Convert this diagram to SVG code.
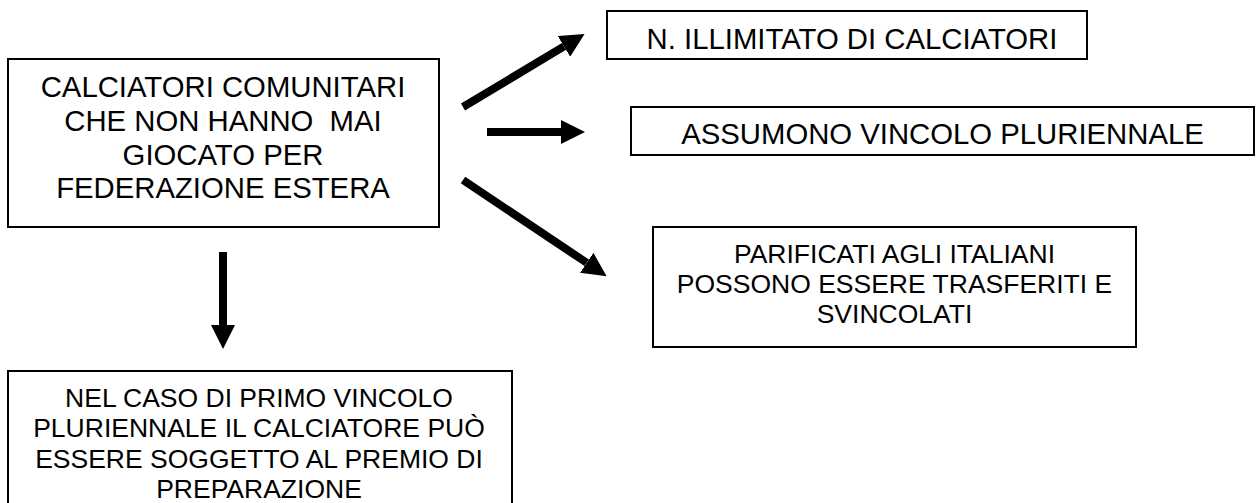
<svg xmlns="http://www.w3.org/2000/svg" width="1256" height="503" viewBox="0 0 1256 503">
  <style>
    .box { fill: #ffffff; stroke: #000000; stroke-width: 2; }
    .t { font-family: "Liberation Sans", Arial, sans-serif; fill: #000000; text-anchor: middle; }
    .big { font-size: 29.3px; }
    .small { font-size: 26.5px; }
    .arr { stroke: #000000; stroke-width: 8; fill: none; marker-end: url(#head); }
  </style>
  <defs>
    <marker id="head" markerUnits="userSpaceOnUse" markerWidth="24" markerHeight="24" refX="0" refY="11" orient="auto" viewBox="0 0 22 22">
      <path d="M0,0 L22,11 L0,22 z" fill="#000000"/>
    </marker>
  </defs>
  <rect width="1256" height="503" fill="#ffffff"/>

  <g id="node-main">
    <rect class="box" x="8" y="59" width="431" height="168"/>
    <text class="t big" x="223" y="97">CALCIATORI COMUNITARI</text>
    <text class="t big" x="223" y="131" xml:space="preserve">CHE NON HANNO  MAI</text>
    <text class="t big" x="223" y="164.5">GIOCATO PER</text>
    <text class="t big" x="223" y="198">FEDERAZIONE ESTERA</text>
  </g>

  <g id="node-illimitato">
    <rect class="box" x="607" y="11" width="480" height="48"/>
    <text class="t big" x="852" y="49">N. ILLIMITATO DI CALCIATORI</text>
  </g>

  <g id="node-vincolo">
    <rect class="box" x="631" y="107" width="623" height="48"/>
    <text class="t big" x="942.5" y="144">ASSUMONO VINCOLO PLURIENNALE</text>
  </g>

  <g id="node-parificati">
    <rect class="box" x="653" y="227" width="483" height="120"/>
    <text class="t small" x="894.5" y="263">PARIFICATI AGLI ITALIANI</text>
    <text class="t small" x="894.5" y="293">POSSONO ESSERE TRASFERITI E</text>
    <text class="t small" x="894.5" y="323">SVINCOLATI</text>
  </g>

  <g id="node-premio">
    <rect class="box" x="8" y="371" width="504" height="140"/>
    <text class="t small" x="259" y="407">NEL CASO DI PRIMO VINCOLO</text>
    <text class="t small" x="259" y="437">PLURIENNALE IL CALCIATORE PUÒ</text>
    <text class="t small" x="259" y="468">ESSERE SOGGETTO AL PREMIO DI</text>
    <text class="t small" x="259" y="498">PREPARAZIONE</text>
  </g>

  <g id="connectors">
    <line class="arr" x1="463" y1="107" x2="564" y2="46.4"/>
    <line class="arr" x1="487" y1="132" x2="561" y2="132"/>
    <line class="arr" x1="463" y1="180" x2="586.7" y2="262.8"/>
    <line class="arr" x1="223" y1="252" x2="223" y2="325"/>
  </g>
</svg>
